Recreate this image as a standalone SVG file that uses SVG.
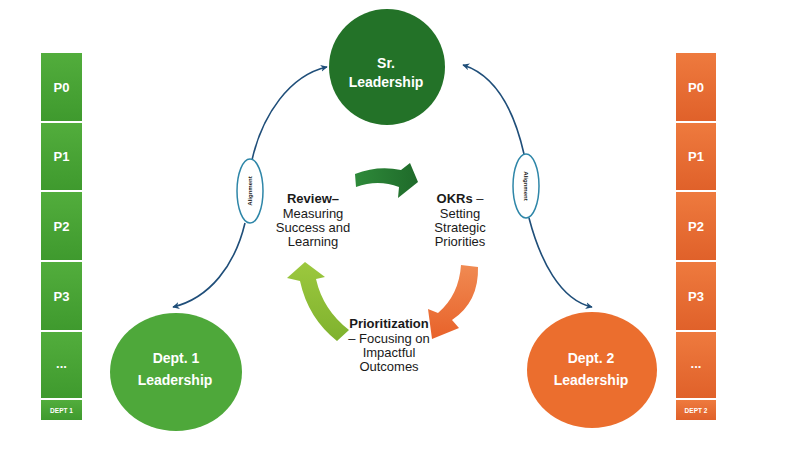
<svg xmlns="http://www.w3.org/2000/svg" width="800" height="450" viewBox="0 0 800 450">
<defs>
<linearGradient id="gbox" x1="0" y1="0" x2="0" y2="1"><stop offset="0" stop-color="#52ad3c"/><stop offset="1" stop-color="#3f9a2e"/></linearGradient>
<linearGradient id="obox" x1="0" y1="0" x2="0" y2="1"><stop offset="0" stop-color="#ee7a3e"/><stop offset="1" stop-color="#e0612a"/></linearGradient>
<linearGradient id="gdark" x1="0" y1="0" x2="1" y2="0"><stop offset="0" stop-color="#2e8a3a"/><stop offset="1" stop-color="#1f6a2a"/></linearGradient>
<linearGradient id="gorange" x1="0" y1="0" x2="0" y2="1"><stop offset="0" stop-color="#f08a52"/><stop offset="1" stop-color="#e8622a"/></linearGradient>
<linearGradient id="glight" x1="0" y1="0" x2="0" y2="1"><stop offset="0" stop-color="#9cc83e"/><stop offset="1" stop-color="#7fb22e"/></linearGradient>
<marker id="ah" viewBox="0 0 10 10" refX="9" refY="5" markerWidth="7" markerHeight="7" orient="auto" markerUnits="userSpaceOnUse"><path d="M0,0 L10,5 L0,10 L3,5 Z" fill="#1f4e79"/></marker>
</defs>
<style>
.lbl{font-family:"Liberation Sans",Arial,sans-serif;fill:#1a1a1a;font-size:13px;text-anchor:middle}
.b{font-weight:bold}
.wt{font-family:"Liberation Sans",Arial,sans-serif;fill:#ffffff;font-weight:bold;text-anchor:middle}
.conn{fill:none;stroke:#1f4e79;stroke-width:1.6}
.al{fill:#ffffff;stroke:#2e86a8;stroke-width:1.5}
.alt{font-family:"Liberation Sans",Arial,sans-serif;font-size:6px;font-weight:bold;fill:#1a1a1a;text-anchor:middle}
.gb{fill:url(#gbox)}
.ob{fill:url(#obox)}
</style>
<rect width="800" height="450" fill="#ffffff"/>

<g id="dept1-column">
<rect class="gb" x="41" y="53" width="41" height="68"/>
<rect class="gb" x="41" y="123" width="41" height="67"/>
<rect class="gb" x="41" y="192" width="41" height="68"/>
<rect class="gb" x="41" y="262" width="41" height="68"/>
<rect class="gb" x="41" y="332" width="41" height="66"/>
<rect class="gb" x="41" y="400" width="41" height="20"/>
<text class="wt" x="61.5" y="92" font-size="13">P0</text>
<text class="wt" x="61.5" y="161" font-size="13">P1</text>
<text class="wt" x="61.5" y="231" font-size="13">P2</text>
<text class="wt" x="61.5" y="301" font-size="13">P3</text>
<text class="wt" x="61.5" y="368" font-size="13">...</text>
<text class="wt" x="61.5" y="413" font-size="6.5">DEPT 1</text>
</g>

<g id="dept2-column">
<rect class="ob" x="676" y="53" width="40" height="68"/>
<rect class="ob" x="676" y="123" width="40" height="67"/>
<rect class="ob" x="676" y="192" width="40" height="68"/>
<rect class="ob" x="676" y="262" width="40" height="68"/>
<rect class="ob" x="676" y="332" width="40" height="66"/>
<rect class="ob" x="676" y="400" width="40" height="20"/>
<text class="wt" x="696" y="92" font-size="13">P0</text>
<text class="wt" x="696" y="161" font-size="13">P1</text>
<text class="wt" x="696" y="231" font-size="13">P2</text>
<text class="wt" x="696" y="301" font-size="13">P3</text>
<text class="wt" x="696" y="368" font-size="13">...</text>
<text class="wt" x="696" y="413" font-size="6.5">DEPT 2</text>
</g>

<g id="sr-leadership">
<circle cx="387" cy="67" r="58" fill="#237228"/>
<text class="wt" x="386" y="68" font-size="14">Sr.</text>
<text class="wt" x="386" y="87" font-size="14">Leadership</text>
</g>

<g id="dept1-leadership">
<ellipse cx="176" cy="372" rx="66" ry="59" fill="#4ea83a"/>
<text class="wt" x="176" y="363" font-size="14">Dept. 1</text>
<text class="wt" x="175" y="385" font-size="14">Leadership</text>
</g>

<g id="dept2-leadership">
<ellipse cx="592" cy="370" rx="65" ry="58" fill="#eb6e2e"/>
<text class="wt" x="591" y="363" font-size="14">Dept. 2</text>
<text class="wt" x="591" y="385" font-size="14">Leadership</text>
</g>

<g id="connectors">
<path class="conn" d="M252,160 C262,115 290,75 327,67" marker-end="url(#ah)"/>
<path class="conn" d="M245,223 C235,265 210,298 173,307" marker-end="url(#ah)"/>
<path class="conn" d="M524,154 C514,110 495,75 463,65" marker-end="url(#ah)"/>
<path class="conn" d="M529,218 C540,260 560,300 592,307" marker-end="url(#ah)"/>
</g>

<g id="alignment-left">
<ellipse class="al" cx="250" cy="191" rx="13" ry="32"/>
<text class="alt" transform="translate(252,191) rotate(-90)">Alignment</text>
</g>
<g id="alignment-right">
<ellipse class="al" cx="526" cy="186" rx="13" ry="32"/>
<text class="alt" transform="translate(524,186) rotate(90)">Alignment</text>
</g>

<g id="cycle-arrows">
<path d="M355,174 Q378,165 401,170 L410,163 L418,182 L398,198 L399,187 Q378,179 356,187 Z" fill="url(#gdark)"/>
<path d="M461,265 L478,267 Q479,302 452,320 L459,328 L432,339 L428,309 L438,313 Q459,295 461,265 Z" fill="url(#gorange)"/>
<path d="M337,341 L349,330 Q323,310 316,279 L325,277 L305,262 L287,278 L300,281 Q308,318 337,341 Z" fill="url(#glight)"/>
</g>

<g id="review">
<text class="lbl b" x="313" y="203">Review–</text>
<text class="lbl" x="313" y="218">Measuring</text>
<text class="lbl" x="313" y="232">Success and</text>
<text class="lbl" x="313" y="246">Learning</text>
</g>
<g id="okrs">
<text class="lbl" x="460" y="203"><tspan class="b">OKRs</tspan> –</text>
<text class="lbl" x="460" y="218">Setting</text>
<text class="lbl" x="460" y="232">Strategic</text>
<text class="lbl" x="460" y="246">Priorities</text>
</g>
<g id="prioritization">
<text class="lbl b" x="389" y="328">Prioritization</text>
<text class="lbl" x="389" y="343">– Focusing on</text>
<text class="lbl" x="389" y="357">Impactful</text>
<text class="lbl" x="389" y="371">Outcomes</text>
</g>
</svg>
